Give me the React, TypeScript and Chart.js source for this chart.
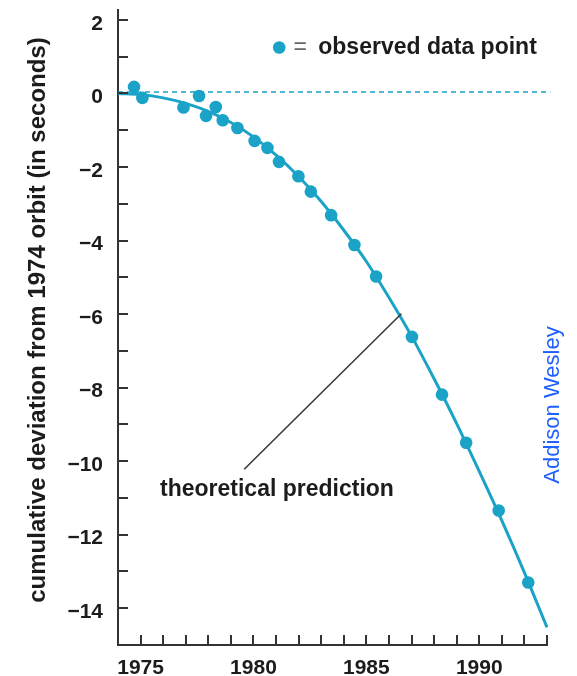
import React, { useEffect, useRef } from 'react';
import { Chart, registerables } from 'chart.js';

Chart.register(...registerables);

// ---- data ----
const observedYears = [1974.71, 1975.08, 1976.9, 1977.59, 1977.9, 1978.33, 1978.64, 1979.29, 1980.05, 1980.62, 1981.13, 1981.99, 1982.54, 1983.44, 1984.47, 1985.43, 1987.02, 1988.35, 1989.42, 1990.86, 1992.17];
const observedShift = [0.18, -0.12, -0.38, -0.07, -0.61, -0.37, -0.73, -0.94, -1.29, -1.48, -1.86, -2.25, -2.67, -3.31, -4.12, -4.98, -6.62, -8.19, -9.5, -11.34, -13.3];

const theoryYears = [1974, 1975, 1976, 1977, 1978, 1979, 1980, 1981, 1982, 1983, 1984, 1985, 1986, 1987, 1988, 1989, 1990, 1991, 1992, 1993];
const theoryShift = [0, -0.03, -0.12, -0.27, -0.49, -0.79, -1.18, -1.68, -2.26, -2.94, -3.72, -4.57, -5.55, -6.6, -7.76, -8.98, -10.28, -11.62, -13.03, -14.52];

const zeroLineYears = [1974, 1993.15];
const zeroLineShift = [0.04, 0.04];

const xTickValues = [1975, 1976, 1977, 1978, 1979, 1980, 1981, 1982, 1983, 1984, 1985, 1986, 1987, 1988, 1989, 1990, 1991, 1992, 1993];
const xLabelValues = [1975, 1980, 1985, 1990];
const yTickValues = [-14, -13, -12, -11, -10, -9, -8, -7, -6, -5, -4, -3, -2, -1, 0, 1, 2];
const yLabelValues = [-14, -12, -10, -8, -6, -4, -2, 0, 2];

const yTitle = 'cumulative deviation from 1974 orbit (in seconds)';
const legendText = 'observed data point';
const theoryLabel = 'theoretical prediction';
const creditText = 'Addison Wesley';

// ---- styling / annotation placement ----
const TEAL = '#1aa3c7';
const INK = '#1c1c1c';
const AXIS = '#333333';
const FONT = "'Liberation Sans', Arial, Helvetica, sans-serif";

const annot = {
  legendDot: { x: 1981.14, y: 1.25 },
  legendEq: { x: 1982.07, y: 1.25 },
  legendText: { x: 1982.87, y: 1.25 },
  pointerFrom: { x: 1979.59, y: -10.22 },
  pointerTo: { x: 1986.55, y: -5.99 },
  theoryText: { x: 1975.86, y: -10.77 },
  creditPx: { x: 553, y: 405 },
  titlePx: { x: 38, y: 320 },
};

const fmt = (v: number) => (v < 0 ? '\u2212' + Math.abs(v) : String(v));

const insideTicks = {
  id: 'insideTicks',
  afterDraw(chart: any) {
    const { ctx, chartArea } = chart;
    const xs = chart.scales.x;
    const ys = chart.scales.y;
    ctx.save();
    ctx.strokeStyle = AXIS;
    ctx.lineWidth = 2;
    ctx.beginPath();
    xTickValues.forEach((v) => {
      const px = Math.round(xs.getPixelForValue(v));
      ctx.moveTo(px, chartArea.bottom);
      ctx.lineTo(px, chartArea.bottom - 10);
    });
    yTickValues.forEach((v) => {
      const py = Math.round(ys.getPixelForValue(v));
      ctx.moveTo(chartArea.left, py);
      ctx.lineTo(chartArea.left + 10, py);
    });
    ctx.stroke();
    ctx.restore();
  },
};

const annotations = {
  id: 'annotations',
  afterDraw(chart: any) {
    const { ctx } = chart;
    const xs = chart.scales.x;
    const ys = chart.scales.y;
    const P = (p: { x: number; y: number }) => [xs.getPixelForValue(p.x), ys.getPixelForValue(p.y)];
    ctx.save();
    // legend
    const [dx, dy] = P(annot.legendDot);
    ctx.fillStyle = TEAL;
    ctx.beginPath();
    ctx.arc(dx, dy, 6.3, 0, Math.PI * 2);
    ctx.fill();
    const [ex, ey] = P(annot.legendEq);
    ctx.fillStyle = '#666';
    ctx.font = `23px ${FONT}`;
    ctx.textAlign = 'center';
    ctx.textBaseline = 'middle';
    ctx.fillText('=', ex, ey);
    const [tx, ty] = P(annot.legendText);
    ctx.fillStyle = INK;
    ctx.font = `bold 23px ${FONT}`;
    ctx.textAlign = 'left';
    ctx.fillText(legendText, tx, ty);
    // pointer
    const [ax, ay] = P(annot.pointerFrom);
    const [bx, by] = P(annot.pointerTo);
    ctx.strokeStyle = '#3a3a3a';
    ctx.lineWidth = 1.6;
    ctx.beginPath();
    ctx.moveTo(ax, ay);
    ctx.lineTo(bx, by);
    ctx.stroke();
    const [lx, ly] = P(annot.theoryText);
    ctx.fillStyle = INK;
    ctx.fillText(theoryLabel, lx, ly);
    // y-axis title
    ctx.save();
    ctx.translate(annot.titlePx.x, annot.titlePx.y);
    ctx.rotate(-Math.PI / 2);
    ctx.font = `bold 24px ${FONT}`;
    ctx.fillStyle = INK;
    ctx.textAlign = 'center';
    ctx.fillText(yTitle, 0, 0);
    ctx.restore();
    // credit
    ctx.translate(annot.creditPx.x, annot.creditPx.y);
    ctx.rotate(-Math.PI / 2);
    ctx.font = `22px ${FONT}`;
    ctx.fillStyle = '#1f5fff';
    ctx.textAlign = 'center';
    ctx.fillText(creditText, 0, 0);
    ctx.restore();
  },
};

export default function App() {
  const ref = useRef<HTMLCanvasElement | null>(null);
  useEffect(() => {
    if (!ref.current) return;
    const chart = new Chart(ref.current, {
      type: 'scatter',
      data: {
        datasets: [
          {
            type: 'line',
            label: 'zero',
            data: zeroLineYears.map((x, i) => ({ x, y: zeroLineShift[i] })),
            borderColor: TEAL,
            borderWidth: 1.5,
            borderDash: [5, 4],
            pointRadius: 0,
            clip: false as any,
          },
          {
            type: 'line',
            label: theoryLabel,
            data: theoryYears.map((x, i) => ({ x, y: theoryShift[i] })),
            borderColor: TEAL,
            borderWidth: 3,
            pointRadius: 0,
            cubicInterpolationMode: 'monotone',
            clip: false as any,
          },
          {
            type: 'scatter',
            label: legendText,
            data: observedYears.map((x, i) => ({ x, y: observedShift[i] })),
            backgroundColor: TEAL,
            borderColor: TEAL,
            pointRadius: 6.3,
            borderWidth: 0,
          },
        ],
      },
      options: {
        animation: false,
        responsive: true,
        maintainAspectRatio: false,
        layout: { padding: { left: 0, right: 30, top: 10, bottom: 0 } },
        plugins: { legend: { display: false }, tooltip: { enabled: false } },
        scales: {
          x: {
            type: 'linear',
            min: 1974,
            max: 1993,
            afterBuildTicks: (s: any) => {
              s.ticks = xTickValues.map((v) => ({ value: v }));
            },
            afterFit: (s: any) => {
              s.height = 31;
              s.paddingLeft = 0;
              s.paddingRight = 0;
            },
            ticks: {
              autoSkip: false,
              maxRotation: 0,
              padding: 11,
              color: INK,
              font: { family: FONT, size: 21, weight: 'bold' },
              callback: (v: any) => (xLabelValues.includes(Number(v)) ? String(v) : ''),
            },
            grid: { display: false, drawTicks: false },
            border: { display: true, color: AXIS, width: 2 },
          },
          y: {
            type: 'linear',
            min: -15,
            max: 2.27,
            afterBuildTicks: (s: any) => {
              s.ticks = yTickValues.map((v) => ({ value: v }));
            },
            afterFit: (s: any) => {
              s.width = 118;
              s.paddingTop = 0;
              s.paddingBottom = 0;
            },
            ticks: {
              autoSkip: false,
              padding: 15,
              labelOffset: 4,
              color: INK,
              font: { family: FONT, size: 21, weight: 'bold' },
              callback: (v: any) => (yLabelValues.includes(Number(v)) ? fmt(Number(v)) : ''),
            },
            grid: { display: false, drawTicks: false },
            border: { display: true, color: AXIS, width: 2 },
          },
        },
      },
      plugins: [insideTicks, annotations],
    } as any);
    return () => chart.destroy();
  }, []);
  return (
    <div style={{ position: 'fixed', left: 0, top: 0, width: 577, height: 676, background: '#fff' }}>
      <canvas ref={ref} />
    </div>
  );
}
